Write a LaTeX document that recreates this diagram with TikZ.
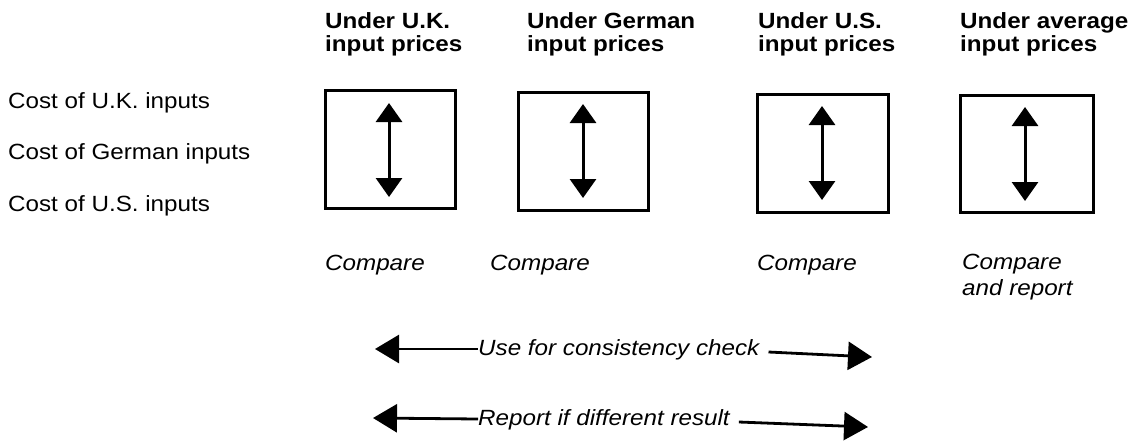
\documentclass[tikz,border=0pt]{standalone}
\usepackage{fontspec}
\setmainfont{Liberation Sans}[FakeStretch=1.1]
\usetikzlibrary{arrows.meta}

\tikzset{
  pricebox/.style={draw, line width=3pt},
  innerarrow/.style={line width=3pt, {Triangle[length=19pt,width=26pt]}-{Triangle[length=19pt,width=26pt]}},
  lefthead/.style={line width=2.8pt, {Triangle[length=24pt,width=28pt]}-},
  righthead/.style={line width=2.8pt, -{Triangle[length=24pt,width=28pt]}},
  txt/.style={inner sep=0pt, font=\fontsize{22}{23}\selectfont},
  heading/.style={txt, font=\fontsize{22}{23}\selectfont\bfseries, align=left, anchor=north west},
  label/.style={txt, anchor=base west},
  note/.style={txt, font=\fontsize{22}{26}\selectfont\itshape, align=left},
}

\begin{document}
\begin{tikzpicture}[x=1pt, y=-1pt]
  \useasboundingbox (0,0) rectangle (1142,445);

  % column headings
  \node[heading] (h1) at (325,12) {Under U.K.\\input prices};
  \node[heading] (h2) at (527,12) {Under German\\input prices};
  \node[heading] (h3) at (758,12) {Under U.S.\\input prices};
  \node[heading] (h4) at (960,12) {Under average\\input prices};

  % row labels
  \node[label] (uk) at (8,108) {Cost of U.K. inputs};
  \node[label] (de) at (8,159) {Cost of German inputs};
  \node[label] (us) at (8,211) {Cost of U.S. inputs};

  % comparison boxes
  \draw[pricebox] (325,90) rectangle (455,208);
  \draw[pricebox] (518,92) rectangle (648,210);
  \draw[pricebox] (757,94) rectangle (888,212);
  \draw[pricebox] (960,95) rectangle (1093,212);

  % two-way arrows inside the boxes
  \coordinate (a1t) at (389,103); \coordinate (a1b) at (389,197);
  \coordinate (a2t) at (583,104); \coordinate (a2b) at (583,198);
  \coordinate (a3t) at (822,106); \coordinate (a3b) at (822,200);
  \coordinate (a4t) at (1025,107); \coordinate (a4b) at (1025,201);
  \draw[innerarrow] (a1t) -- (a1b);
  \draw[innerarrow] (a2t) -- (a2b);
  \draw[innerarrow] (a3t) -- (a3b);
  \draw[innerarrow] (a4t) -- (a4b);

  % actions under the boxes
  \node[note, anchor=base west] (c1) at (325,270) {Compare};
  \node[note, anchor=base west] (c2) at (490,270) {Compare};
  \node[note, anchor=base west] (c3) at (757,270) {Compare};
  \node[note, anchor=north west] (c4) at (962,254) {Compare\\and report};

  % consistency check span
  \node[note, anchor=base west] (chk) at (478,355) {Use for consistency check};
  \coordinate (chkL) at (375,349);
  \coordinate (chkR) at (872,357);
  \draw[lefthead] (chkL) -- ([yshift=6pt]chk.base west);
  \draw[righthead] ([xshift=9pt,yshift=3pt]chk.base east) -- (chkR);

  % report span
  \node[note, anchor=base west] (rep) at (478,425) {Report if different result};
  \coordinate (repL) at (373,418);
  \coordinate (repR) at (868,427);
  \draw[lefthead] (repL) -- ([yshift=6pt]rep.base west);
  \draw[righthead] ([xshift=9pt,yshift=3pt]rep.base east) -- (repR);
\end{tikzpicture}
\end{document}
